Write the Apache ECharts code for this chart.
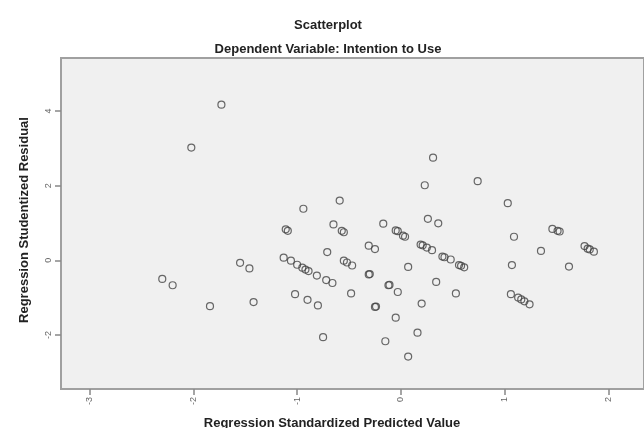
<!DOCTYPE html>
<html>
<head>
<meta charset="utf-8">
<script src="https://cdn.jsdelivr.net/npm/echarts@6/dist/echarts.min.js"></script>
<style>
html,body{margin:0;padding:0;background:#fff;}
#main{width:644px;height:428px;}
</style>
</head>
<body>
<div id="main"></div>
<script>
const predictedValues = [
  -2.02, -1.73, -2.30, -2.20, -1.84, -1.55, -1.46, -1.42,
  -1.11, -1.09, -0.94, -0.59, -0.65, -0.57, -0.55, -0.71,
  -1.13, -1.06, -1.00, -0.95, -0.92, -0.89, -0.81, -0.72,
  -0.66, -0.55, -0.52, -0.47, -1.02, -0.90, -0.80, -0.48,
  -0.75,
  -0.31, -0.25, -0.17, -0.05, -0.03, 0.02, 0.04, -0.31,
  -0.30, -0.12, -0.11, -0.03, -0.25, -0.24, 0.07, -0.05,
  -0.15, 0.16, 0.07, 0.20, 0.31, 0.23, 0.26, 0.36,
  0.19, 0.21, 0.25, 0.30, 0.40, 0.42, 0.48, 0.56,
  0.58, 0.61, 0.34, 0.53,
  0.74, 1.03, 1.09, 1.07, 1.06, 1.13, 1.16, 1.19,
  1.24, 1.35, 1.46, 1.51, 1.53, 1.62, 1.77, 1.80,
  1.82, 1.86
];
const studentizedResiduals = [
  3.02, 4.17, -0.50, -0.67, -1.23, -0.07, -0.22, -1.12,
  0.83, 0.79, 1.38, 1.60, 0.96, 0.79, 0.75, 0.22,
  0.07, -0.01, -0.12, -0.20, -0.25, -0.29, -0.41, -0.53,
  -0.61, -0.01, -0.06, -0.14, -0.91, -1.06, -1.21, -0.89,
  -2.06,
  0.39, 0.30, 0.98, 0.80, 0.78, 0.66, 0.63, -0.38,
  -0.37, -0.67, -0.66, -0.85, -1.25, -1.24, -0.18, -1.54,
  -2.17, -1.94, -2.58, -1.16, 2.75, 2.01, 1.11, 0.99,
  0.42, 0.40, 0.34, 0.27, 0.10, 0.08, 0.02, -0.13,
  -0.15, -0.19, -0.58, -0.89,
  2.12, 1.53, 0.63, -0.13, -0.91, -1.00, -1.05, -1.10,
  -1.18, 0.25, 0.84, 0.79, 0.77, -0.17, 0.38, 0.31,
  0.29, 0.23
];
const xTicks = [-3, -2, -1, 0, 1, 2];
const yTicks = [-2, 0, 2, 4];

const chartTitle = 'Scatterplot';
const chartSubtitle = 'Dependent Variable: Intention to Use';
const xAxisTitle = 'Regression Standardized Predicted Value';
const yAxisTitle = 'Regression Studentized Residual';

const points = predictedValues.map((x, i) => [x, studentizedResiduals[i]]);

const chart = echarts.init(document.getElementById('main'), null, {renderer: 'canvas'});
const txt = {fontFamily: 'Liberation Sans, Arial, sans-serif', fontWeight: 'bold', fontSize: 13, color: '#222'};

chart.setOption({
  backgroundColor: '#ffffff',
  animation: false,
  title: [
    {text: chartTitle, left: 323, top: 14, textAlign: 'center', textStyle: txt},
    {text: chartSubtitle, left: 323, top: 38, textAlign: 'center', textStyle: txt},
    {text: xAxisTitle, left: 327, top: 412, textAlign: 'center', textStyle: txt}
  ],
  graphic: [{
    type: 'text',
    x: 24, y: 220,
    rotation: Math.PI / 2,
    style: {
      text: yAxisTitle,
      font: 'bold 13px "Liberation Sans", Arial, sans-serif',
      fill: '#222',
      align: 'center',
      verticalAlign: 'middle'
    }
  }],
  grid: {
    left: 61, top: 58, width: 590, height: 331,
    show: true,
    backgroundColor: '#f0f0f0',
    borderColor: '#a0a0a0',
    borderWidth: 2
  },
  xAxis: {
    type: 'value',
    min: -3.276, max: 2.343,
    splitLine: {show: false},
    axisLine: {show: true, onZero: false, lineStyle: {color: '#a0a0a0', width: 2}},
    axisTick: {show: true, customValues: xTicks, length: 6, lineStyle: {color: '#888', width: 1.5}},
    axisLabel: {
      customValues: xTicks, rotate: 90, margin: 8,
      fontFamily: 'Liberation Sans, Arial, sans-serif', fontSize: 9, color: '#666'
    }
  },
  yAxis: {
    type: 'value',
    min: -3.45, max: 5.42,
    splitLine: {show: false},
    axisLine: {show: true, onZero: false, lineStyle: {color: '#a0a0a0', width: 2}},
    axisTick: {show: true, customValues: yTicks, length: 6, lineStyle: {color: '#888', width: 1.5}},
    axisLabel: {
      customValues: yTicks, rotate: 90, margin: 8,
      fontFamily: 'Liberation Sans, Arial, sans-serif', fontSize: 9, color: '#666'
    }
  },
  series: [{
    type: 'scatter',
    data: points,
    symbol: 'circle',
    symbolSize: 7,
    itemStyle: {color: 'rgba(0,0,0,0)', borderColor: '#444', borderWidth: 1.2}
  }]
});
</script>
</body>
</html>
